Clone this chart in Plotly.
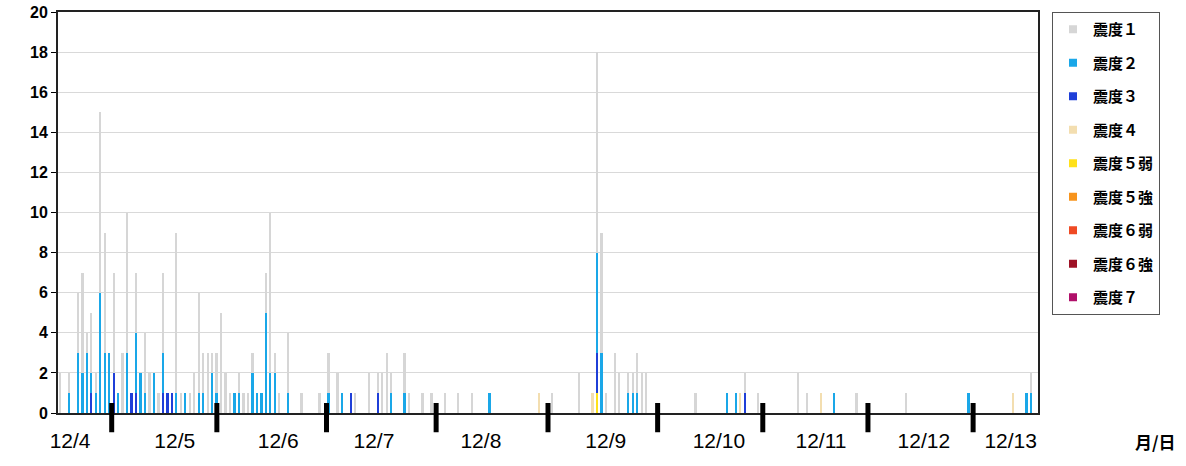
import plotly.graph_objects as go

N_HOURS = 219  # hourly slots shown

# hourly counts per intensity, as (slot index, count) lists
s1_hours = [0, 2, 4, 5, 6, 7, 8, 9, 10, 12, 14, 15, 17, 19, 20, 22, 23, 26, 27, 29, 30, 31, 32, 33, 34, 35,
            36, 37, 38, 40, 41, 42, 43, 46, 47, 48, 49, 51, 54, 58, 60, 62, 66, 69, 71, 72, 73, 74, 77, 78,
            81, 83, 86, 89, 92, 110, 116, 120, 121, 122, 124, 125, 127, 128, 129, 130, 131, 142, 153, 156,
            165, 167, 178, 189, 217]
s1_counts = [2, 1, 3, 5, 1, 3, 1, 9, 6, 5, 3, 7, 3, 3, 2, 1, 4, 8, 1, 1, 2, 5, 2, 3, 1, 2,
             5, 2, 1, 1, 1, 1, 1, 2, 8, 1, 1, 3, 1, 1, 2, 2, 1, 2, 1, 2, 3, 1, 2, 1,
             1, 1, 1, 1, 1, 1, 2, 10, 6, 1, 3, 2, 1, 1, 2, 2, 2, 1, 1, 1,
             2, 1, 1, 1, 1]

s2_hours = [2, 4, 5, 6, 7, 8, 9, 10, 11, 13, 15, 17, 18, 19, 21, 23, 26, 28, 31, 32, 34, 35, 39, 40,
            43, 44, 45, 46, 47, 48, 51, 60, 63, 74, 77, 96, 120, 121, 127, 128, 129, 149, 151, 173,
            203, 216, 217]
s2_counts = [1, 3, 2, 3, 1, 1, 6, 3, 3, 1, 3, 3, 2, 1, 2, 2, 1, 1, 1, 1, 2, 1, 1, 1,
             2, 1, 1, 5, 2, 2, 1, 1, 1, 1, 1, 1, 5, 3, 1, 1, 1, 1, 1, 1,
             1, 1, 1]

s3_hours = [7, 12, 16, 17, 23, 24, 25, 65, 71, 120, 153]
s3_counts = [1, 2, 1, 1, 1, 1, 1, 1, 1, 2, 1]

s4_hours = [107, 119, 152, 170, 213]
s4_counts = [1, 1, 1, 1, 1]

s5l_hours = [120]
s5l_counts = [1]

series_names = ["震度１", "震度２", "震度３", "震度４", "震度５弱", "震度５強", "震度６弱", "震度６強", "震度７"]
series_colors = ["#d6d6d6", "#1aa7e8", "#1f3fd8", "#f3deb0", "#ffe11a", "#f7941d", "#ef4a24", "#9e1226", "#b0106a"]

day_labels = ["12/4", "12/5", "12/6", "12/7", "12/8", "12/9", "12/10", "12/11", "12/12", "12/13"]
day_label_pos = [2.2, 25.6, 48.7, 70.1, 94.0, 121.9, 147.2, 170.0, 193.0, 212.4]
day_mark_pos = [11.5, 35, 59.5, 84, 109, 133.5, 157, 180.5, 204]

series_data = {
    "震度１": (s1_hours, s1_counts),
    "震度２": (s2_hours, s2_counts),
    "震度３": (s3_hours, s3_counts),
    "震度４": (s4_hours, s4_counts),
    "震度５弱": (s5l_hours, s5l_counts),
    "震度５強": ([], []),
    "震度６弱": ([], []),
    "震度６強": ([], []),
    "震度７": ([], []),
}

slots = list(range(N_HOURS))
fig = go.Figure()

# stack highest intensity at bottom
for name, color in reversed(list(zip(series_names, series_colors))):
    hrs, cnts = series_data[name]
    y = [0] * N_HOURS
    for h, c in zip(hrs, cnts):
        y[h] = c
    fig.add_trace(go.Bar(x=slots, y=y, name=name, marker=dict(color=color, line=dict(width=0)),
                         showlegend=False, hoverinfo="skip"))

# legend entries (small square markers)
for i, (name, color) in enumerate(zip(series_names, series_colors)):
    fig.add_trace(go.Scatter(x=[None], y=[None], mode="markers", name=name, legendgroup=f"g{i}",
                             marker=dict(symbol="square", size=8, color=color)))

for xm in day_mark_pos:
    fig.add_shape(type="line", xref="x", yref="paper", x0=xm, x1=xm, y0=-0.048, y1=0.025,
                  line=dict(color="black", width=5), layer="above")

fig.add_annotation(text="月/日", xref="paper", yref="paper", x=1.1204, y=-0.07,
                   showarrow=False, font=dict(family="Noto Sans CJK JP", size=17, color="black", weight="bold"),
                   xanchor="center", yanchor="middle")

fig.update_layout(
    width=1186, height=466,
    margin=dict(l=58, r=148, t=12, b=53, autoexpand=False),
    paper_bgcolor="white", plot_bgcolor="white",
    barmode="stack", bargap=0.6,
    legend=dict(x=1.0143, y=1.0, xanchor="left", yanchor="top",
                bordercolor="#555555", borderwidth=1, bgcolor="white",
                font=dict(family="Noto Sans CJK JP", size=15, color="black", weight="bold"),
                traceorder="grouped", tracegroupgap=11, itemwidth=30),
    xaxis=dict(range=[-0.5, N_HOURS - 0.5], tickmode="array", tickvals=day_label_pos, ticktext=day_labels,
               ticks="", showgrid=False, zeroline=False, showline=True, linecolor="#222", linewidth=2,
               mirror=True, ticklabelstandoff=8, automargin=False,
               tickfont=dict(family="Liberation Sans Narrow, Arial Narrow, Liberation Sans", size=21, color="black")),
    yaxis=dict(range=[0, 20], dtick=2, ticks="outside", ticklen=5, tickcolor="black", automargin=False,
               showgrid=True, gridcolor="#d9d9d9", gridwidth=1, zeroline=False,
               showline=True, linecolor="#222", linewidth=2, mirror=True,
               tickfont=dict(family="Liberation Sans", size=16, color="black", weight="bold")),
)

# remove the default 8px page margin so the figure sits at the window's top-left corner
fig.write_html("out.html", config={"displayModeBar": False},
               post_script="document.body.style.margin='0';")
